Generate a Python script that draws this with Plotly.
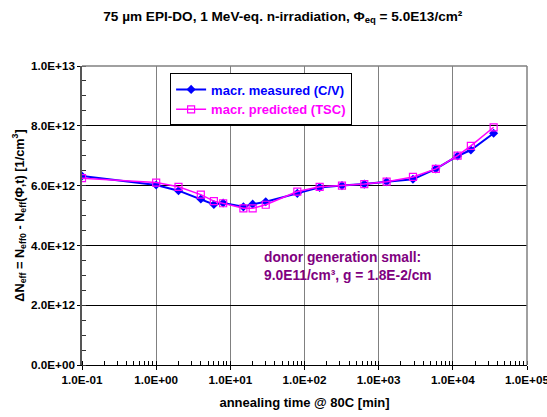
import plotly.graph_objects as go

# annealing time @ 80C [min]
anneal_time = [0.1, 1, 2, 4, 6, 8, 15, 20, 30, 80, 160, 320, 640, 1280,
               2900, 5900, 11600, 17500, 35500]

# macroscopic values of Delta N_eff [1/cm^3]
measured_cv = [6.32e12, 6.02e12, 5.83e12, 5.55e12, 5.37e12, 5.42e12, 5.29e12,
               5.38e12, 5.46e12, 5.74e12, 5.94e12, 6.00e12, 6.05e12, 6.13e12,
               6.21e12, 6.56e12, 6.99e12, 7.19e12, 7.75e12]
predicted_tsc = [6.25e12, 6.10e12, 5.96e12, 5.70e12, 5.48e12, 5.41e12, 5.24e12,
                 5.24e12, 5.36e12, 5.80e12, 5.96e12, 6.00e12, 6.05e12, 6.13e12,
                 6.29e12, 6.56e12, 7.00e12, 7.33e12, 7.95e12]

x_tickvals = [0.1, 1, 10, 100, 1000, 10000, 100000]
x_ticktext = ["1.0E-01", "1.0E+00", "1.0E+01", "1.0E+02", "1.0E+03", "1.0E+04", "1.0E+05"]
y_tickvals = [0, 2e12, 4e12, 6e12, 8e12, 1e13]
y_ticktext = ["0.0E+00", "2.0E+12", "4.0E+12", "6.0E+12", "8.0E+12", "1.0E+13"]

FONT = "Liberation Sans, Arial, sans-serif"
BLUE = "#0000FF"
MAGENTA = "#FF00FF"

fig = go.Figure()
fig.add_trace(go.Scatter(
    x=anneal_time, y=measured_cv, mode="lines+markers",
    name="<span style='color:#0000FF'><b>macr. measured (C/V)</b></span>",
    line=dict(color=BLUE, width=2),
    marker=dict(symbol="diamond", size=7, color=BLUE),
))
fig.add_trace(go.Scatter(
    x=anneal_time, y=predicted_tsc, mode="lines+markers",
    name="<span style='color:#FF00FF'><b>macr. predicted (TSC)</b></span>",
    line=dict(color=MAGENTA, width=1.5),
    marker=dict(symbol="square-open", size=7, color=MAGENTA, line=dict(width=1.2)),
))

fig.update_layout(
    width=547, height=417,
    margin=dict(l=82, r=20, t=66, b=52, autoexpand=False),
    paper_bgcolor="white", plot_bgcolor="white",
    font=dict(family=FONT, color="black"),
    title=dict(
        text="<b>75 µm EPI-DO, 1 MeV-eq. n-irradiation, Φ<sub>eq</sub> = 5.0E13/cm²</b>",
        x=0.517, xanchor="center", y=0.962, yanchor="middle",
        font=dict(size=13.6, family=FONT, color="black"),
    ),
    legend=dict(
        x=0.198, y=0.975, xanchor="left", yanchor="top",
        bgcolor="white", bordercolor="black", borderwidth=1,
        font=dict(size=13, family=FONT),
        tracegroupgap=2, itemwidth=30,
    ),
    showlegend=True,
)

fig.update_xaxes(
    type="log", range=[-1, 5],
    tickvals=x_tickvals, ticktext=x_ticktext,
    tickfont=dict(size=11.7, family=FONT, color="black", weight="bold"),
    ticklabeloverflow="allow",
    ticks="outside", ticklen=4, tickcolor="black",
    showgrid=True, gridcolor="#808080", gridwidth=1,
    showline=True, linecolor="black", linewidth=1,
    zeroline=False,
    minor=dict(ticks="inside", ticklen=4, tickcolor="black",
               dtick="D1", showgrid=False),
    title=dict(text="<b>annealing time @ 80C [min]</b>",
               font=dict(size=13, family=FONT, color="black"), standoff=12),
)
fig.update_yaxes(
    range=[0, 1e13],
    tickvals=y_tickvals, ticktext=y_ticktext,
    tickfont=dict(size=11.7, family=FONT, color="black", weight="bold"),
    ticks="outside", ticklen=3, tickcolor="black",
    showgrid=True, gridcolor="black", gridwidth=1,
    showline=True, linecolor="#555555", linewidth=1.5,
    zeroline=False,
    minor=dict(ticks="inside", ticklen=4, tickcolor="#333333",
               dtick=5e11, showgrid=False),
    title=dict(text="<b>ΔN<sub>eff</sub> = N<sub>eff0</sub> - N<sub>eff</sub>(Φ,t) [1/cm<sup>3</sup>]</b>",
               font=dict(size=12.7, family=FONT, color="black"), standoff=4),
)

# grey frame on top and right of the plot area
fig.add_shape(type="line", xref="paper", yref="paper", x0=0, x1=1, y0=1, y1=1,
              line=dict(color="#808080", width=1.5))
fig.add_shape(type="line", xref="paper", yref="paper", x0=1, x1=1, y0=0, y1=1,
              line=dict(color="#808080", width=1.5))

fig.add_annotation(
    xref="paper", yref="paper", x=0.405, y=0.328, xanchor="left", yanchor="middle",
    align="left", showarrow=False,
    text="<b>donor generation small:<br>9.0E11/cm³, g = 1.8E-2/cm</b>",
    font=dict(size=13.8, family=FONT, color="#800080"),
)

fig.write_html("out.html")
